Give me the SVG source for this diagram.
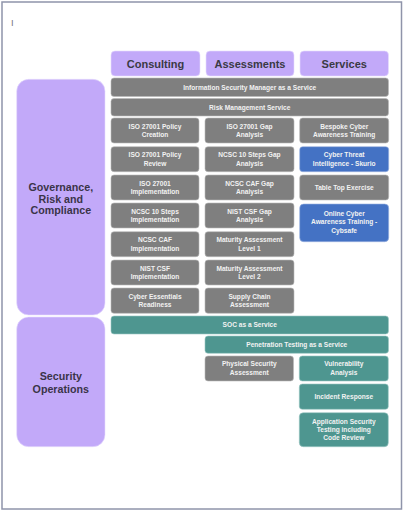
<svg xmlns="http://www.w3.org/2000/svg" width="404" height="511" viewBox="0 0 404 511">
<style>
.frame{fill:#ffffff;stroke:#8f94aa;stroke-width:1.5}
.hdr{fill:#c2a9f9;stroke:#e6dcfd;stroke-width:0.6}
.cat{fill:#c2a9f9;stroke:#e6dcfd;stroke-width:0.6}
.g{fill:#7f7f7f;stroke:#b8b8b8;stroke-width:0.6}
.b{fill:#4472c4;stroke:#9cb4e0;stroke-width:0.6}
.t{fill:#4e9690;stroke:#9cc8c4;stroke-width:0.6}
.ht{font-family:"Liberation Sans",Arial,sans-serif;font-weight:bold;font-size:11px;fill:#3a3a44;text-anchor:middle}
.ct{font-family:"Liberation Sans",Arial,sans-serif;font-weight:bold;font-size:10.7px;fill:#3a3448;text-anchor:middle}
.bt{font-family:"Liberation Sans",Arial,sans-serif;font-weight:bold;font-size:6.6px;fill:#f2f2f2;text-anchor:middle}
</style>
<rect class="frame" x="2" y="2" width="399.5" height="507"/>
<text x="11" y="25.5" font-family="Liberation Sans,Arial,sans-serif" font-size="9.5" fill="#777777">I</text>
<g id="headers">
<g id="h-consulting"><rect class="hdr" x="111" y="51" width="89" height="25" rx="4"/><text class="ht" x="155.5" y="67.5">Consulting</text></g>
<g id="h-assessments"><rect class="hdr" x="206" y="51" width="88" height="25" rx="4"/><text class="ht" x="250" y="67.5">Assessments</text></g>
<g id="h-services"><rect class="hdr" x="300" y="51" width="88.5" height="25" rx="4"/><text class="ht" x="344.25" y="67.5">Services</text></g>
</g>
<g id="cat-grc"><rect class="cat" x="16.7" y="79.3" width="88.3" height="235.7" rx="12"/><text class="ct" x="60.8" y="191">Governance,</text><text class="ct" x="60.8" y="202.5">Risk and</text><text class="ct" x="60.8" y="214">Compliance</text></g>
<g id="cat-secops"><rect class="cat" x="16.7" y="317" width="88.3" height="129.7" rx="12"/><text class="ct" x="60.8" y="380">Security</text><text class="ct" x="60.8" y="393">Operations</text></g>
<g id="ism"><rect class="g" x="111" y="78" width="277.5" height="18.5" rx="3"/><text class="bt" x="249.75" y="89.7">Information Security Manager as a Service</text></g>
<g id="rms"><rect class="g" x="111" y="98.5" width="277.5" height="17.5" rx="3"/><text class="bt" x="249.75" y="109.5">Risk Management Service</text></g>
<g id="c1"><rect class="g" x="111" y="118" width="88" height="25" rx="3"/><text class="bt" x="155" y="128.5">ISO 27001 Policy</text><text class="bt" x="155" y="136.8">Creation</text></g>
<g id="c2"><rect class="g" x="111" y="146.7" width="88" height="25" rx="3"/><text class="bt" x="155" y="157.2">ISO 27001 Policy</text><text class="bt" x="155" y="165.5">Review</text></g>
<g id="c3"><rect class="g" x="111" y="175" width="88" height="25" rx="3"/><text class="bt" x="155" y="185.5">ISO 27001</text><text class="bt" x="155" y="193.8">Implementation</text></g>
<g id="c4"><rect class="g" x="111" y="203" width="88" height="25" rx="3"/><text class="bt" x="155" y="213.5">NCSC 10 Steps</text><text class="bt" x="155" y="221.8">Implementation</text></g>
<g id="c5"><rect class="g" x="111" y="231.7" width="88" height="25" rx="3"/><text class="bt" x="155" y="242.2">NCSC CAF</text><text class="bt" x="155" y="250.5">Implementation</text></g>
<g id="c6"><rect class="g" x="111" y="260" width="88" height="25" rx="3"/><text class="bt" x="155" y="270.5">NIST CSF</text><text class="bt" x="155" y="278.8">Implementation</text></g>
<g id="c7"><rect class="g" x="111" y="288" width="88" height="25.3" rx="3"/><text class="bt" x="155" y="298.5">Cyber Essentials</text><text class="bt" x="155" y="306.8">Readiness</text></g>
<g id="a1"><rect class="g" x="205" y="118" width="89" height="25" rx="3"/><text class="bt" x="249.5" y="128.5">ISO 27001 Gap</text><text class="bt" x="249.5" y="136.8">Analysis</text></g>
<g id="a2"><rect class="g" x="205" y="146.7" width="89" height="25" rx="3"/><text class="bt" x="249.5" y="157.2">NCSC 10 Steps Gap</text><text class="bt" x="249.5" y="165.5">Analysis</text></g>
<g id="a3"><rect class="g" x="205" y="175" width="89" height="25" rx="3"/><text class="bt" x="249.5" y="185.5">NCSC CAF Gap</text><text class="bt" x="249.5" y="193.8">Analysis</text></g>
<g id="a4"><rect class="g" x="205" y="203" width="89" height="25" rx="3"/><text class="bt" x="249.5" y="213.5">NIST CSF Gap</text><text class="bt" x="249.5" y="221.8">Analysis</text></g>
<g id="a5"><rect class="g" x="205" y="231.7" width="89" height="25" rx="3"/><text class="bt" x="249.5" y="242.2">Maturity Assessment</text><text class="bt" x="249.5" y="250.5">Level 1</text></g>
<g id="a6"><rect class="g" x="205" y="260" width="89" height="25" rx="3"/><text class="bt" x="249.5" y="270.5">Maturity Assessment</text><text class="bt" x="249.5" y="278.8">Level 2</text></g>
<g id="a7"><rect class="g" x="205" y="288" width="89" height="25.3" rx="3"/><text class="bt" x="249.5" y="298.5">Supply Chain</text><text class="bt" x="249.5" y="306.8">Assessment</text></g>
<g id="s1"><rect class="g" x="299.7" y="118" width="89" height="25" rx="3"/><text class="bt" x="344.2" y="128.5">Bespoke Cyber</text><text class="bt" x="344.2" y="136.8">Awareness Training</text></g>
<g id="s2"><rect class="b" x="299.7" y="146.7" width="89" height="25" rx="3"/><text class="bt" x="344.2" y="157.2">Cyber Threat</text><text class="bt" x="344.2" y="165.5">Intelligence - Skurio</text></g>
<g id="s3"><rect class="g" x="299.7" y="175" width="89" height="25" rx="3"/><text class="bt" x="344.2" y="189.8">Table Top Exercise</text></g>
<g id="s4"><rect class="b" x="299.7" y="204" width="89" height="37.7" rx="4"/><text class="bt" x="344.2" y="216">Online Cyber</text><text class="bt" x="344.2" y="224.3">Awareness Training -</text><text class="bt" x="344.2" y="232.6">Cybsafe</text></g>
<g id="soc"><rect class="t" x="111" y="316" width="277.5" height="18" rx="3"/><text class="bt" x="249.75" y="327.3">SOC as a Service</text></g>
<g id="ptaas"><rect class="t" x="205" y="336" width="183.5" height="17.3" rx="3"/><text class="bt" x="296.75" y="347">Penetration Testing as a Service</text></g>
<g id="phys"><rect class="g" x="205" y="356" width="88.5" height="25" rx="3"/><text class="bt" x="249.25" y="366.3">Physical Security</text><text class="bt" x="249.25" y="374.6">Assessment</text></g>
<g id="vuln"><rect class="t" x="299.3" y="356" width="89" height="25" rx="3"/><text class="bt" x="343.8" y="366.3">Vulnerability</text><text class="bt" x="343.8" y="374.6">Analysis</text></g>
<g id="ir"><rect class="t" x="299.3" y="384" width="89" height="25.3" rx="3"/><text class="bt" x="343.8" y="399">Incident Response</text></g>
<g id="appsec"><rect class="t" x="299.3" y="412.7" width="89" height="34" rx="4"/><text class="bt" x="343.8" y="423.5">Application Security</text><text class="bt" x="343.8" y="431.8">Testing including</text><text class="bt" x="343.8" y="440.1">Code Review</text></g>
<g id="connectors"></g>
</svg>
